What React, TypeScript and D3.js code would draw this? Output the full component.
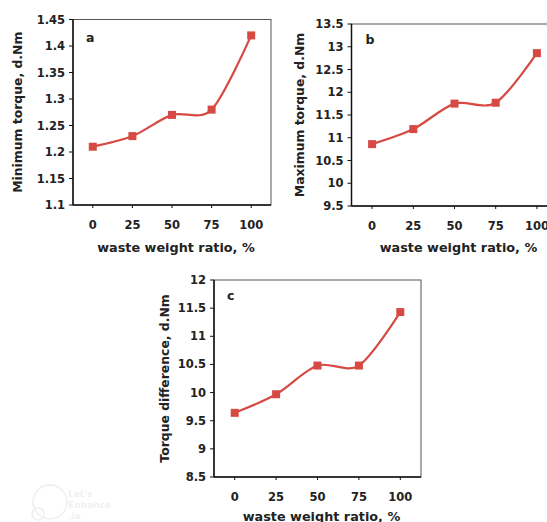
import React from 'react';
import * as d3 from 'd3';

// waste weight ratio, % (shared x categories)
const ratios = ['0', '25', '50', '75', '100'];

// (a) minimum torque, d.Nm
const minTorque = [1.21, 1.23, 1.27, 1.28, 1.42];
const minTicks = [1.1, 1.15, 1.2, 1.25, 1.3, 1.35, 1.4, 1.45];

// (b) maximum torque, d.Nm
const maxTorque = [10.86, 11.19, 11.75, 11.77, 12.86];
const maxTicks = [9.5, 10, 10.5, 11, 11.5, 12, 12.5, 13, 13.5];

// (c) torque difference, d.Nm
const diffTorque = [9.64, 9.97, 10.48, 10.48, 11.43];
const diffTicks = [8.5, 9, 9.5, 10, 10.5, 11, 11.5, 12];

const RED = '#d64a43';
const FONT = '"DejaVu Sans", Verdana, sans-serif';

type PanelProps = {
  letter: string;
  values: number[];
  ticks: number[];
  yTitle: string;
  left: number;
  top: number;
  width: number;
  height: number;
  titleDx: number;
  letterDx: number;
  letterDy: number;
  xTitleDy: number;
};

const Panel = (p: PanelProps) => {
  const { letter, values, ticks, yTitle, left, top, width, height } = p;
  const x = d3.scaleBand().domain(ratios).range([left, left + width]);
  const y = d3.scaleLinear()
    .domain([ticks[0], ticks[ticks.length - 1]])
    .range([top + height, top]);

  const pts = values.map((v, i) => [x(ratios[i])! + x.bandwidth() / 2, y(v)] as [number, number]);
  const line = d3.line().curve(d3.curveCardinal.tension(0.1))(pts) || '';

  const bottom = top + height;
  const fmt = (v: number) => String(+v.toFixed(2));

  return (
    <g fontFamily={FONT} fontWeight="bold" fill="#222">
      {/* frame */}
      <rect x={left} y={top} width={width} height={height} fill="#fff" stroke="#555" strokeWidth={1} />
      <line x1={left} x2={left} y1={top} y2={bottom} stroke="#111" strokeWidth={1.5} />
      <line x1={left} x2={left + width} y1={bottom} y2={bottom} stroke="#111" strokeWidth={1.5} />

      {/* y axis */}
      {ticks.map(t => (
        <g key={t}>
          <line x1={left - 4} x2={left} y1={y(t)} y2={y(t)} stroke="#111" />
          <text x={left - 8} y={y(t)} dy="0.35em" textAnchor="end" fontSize={11.5}>{fmt(t)}</text>
        </g>
      ))}

      {/* x axis */}
      {ratios.map(r => {
        const cx = x(r)! + x.bandwidth() / 2;
        return (
          <g key={r}>
            <line x1={cx} x2={cx} y1={bottom} y2={bottom + 3} stroke="#111" />
            <text x={cx} y={bottom + 24} textAnchor="middle" fontSize={11.5}>{r}</text>
          </g>
        );
      })}

      <text x={left + p.letterDx} y={top + p.letterDy} fontSize={12.5}>{letter}</text>

      <path d={line} fill="none" stroke={RED} strokeWidth={2.2} />
      {pts.map((q, i) => (
        <rect key={i} x={q[0] - 4} y={q[1] - 4} width={8} height={8} fill={RED} />
      ))}

      <text x={left + width / 2 + 4} y={bottom + p.xTitleDy} textAnchor="middle" fontSize={12.8}>
        waste weight ratio, %
      </text>
      <text
        transform={`translate(${left - p.titleDx},${top + height / 2}) rotate(-90)`}
        textAnchor="middle"
        fontSize={12.4}
      >
        {yTitle}
      </text>
    </g>
  );
};

const App = () => (
  <svg width={547} height={522} style={{ position: 'absolute', left: 0, top: 0, background: '#fff' }}>
    <rect width={547} height={522} fill="#fff" />
    <g opacity={0.06} fill="none" stroke="#000" strokeWidth={1.5}>
      <circle cx={50} cy={502} r={17} />
      <circle cx={38} cy={514} r={6} />
    </g>
    <text x={68} y={497} fontFamily={FONT} fontWeight="bold" fontSize={9} fill="#000" opacity={0.06}>
      <tspan x={68}>Let's</tspan>
      <tspan x={68} dy={11}>Enhance</tspan>
      <tspan x={68} dy={11}>.io</tspan>
    </text>
    <Panel letter="a" values={minTorque} ticks={minTicks} yTitle="Minimum torque, d.Nm"
      left={73} top={19.5} width={198} height={185.5}
      titleDx={51} letterDx={13} letterDy={22} xTitleDy={47} />
    <Panel letter="b" values={maxTorque} ticks={maxTicks} yTitle="Maximum torque, d.Nm"
      left={351.5} top={24} width={206} height={182}
      titleDx={48} letterDx={14} letterDy={20} xTitleDy={46} />
    <Panel letter="c" values={diffTorque} ticks={diffTicks} yTitle="Torque difference, d.Nm"
      left={214} top={280} width={207} height={197}
      titleDx={45} letterDx={13} letterDy={20} xTitleDy={44} />
  </svg>
);

export default App;
